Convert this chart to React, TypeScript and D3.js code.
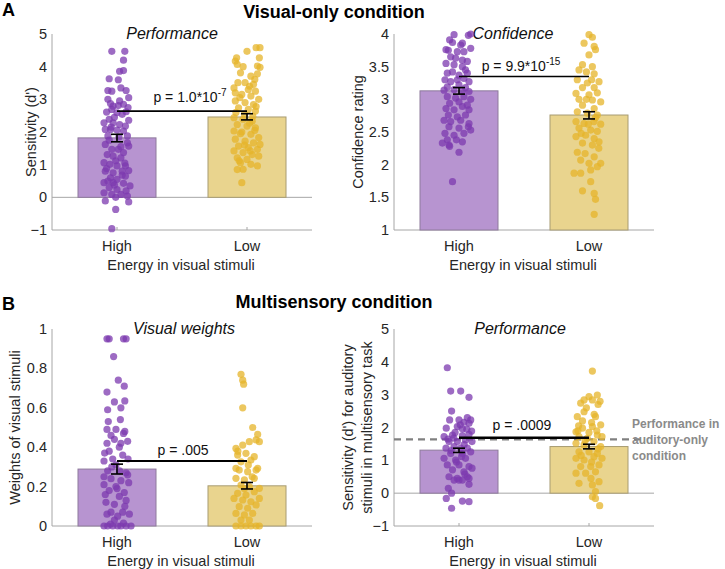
import * as d3 from 'd3';

type Pt = [number, number]; // [jitter in category units, value]

const categories = ['High', 'Low'];
const xAxisLabel = 'Energy in visual stimuli';

// A, left: visual-only performance (d')
const perfVisMeans = [1.82, 2.46];
const perfVisErrLo = [1.70, 2.37];
const perfVisErrHi = [1.93, 2.56];
const perfVisSig = 2.64;
const perfVisHigh: Pt[] = [
  [-0.04, 4.47], [0.06, 4.47], [0.05, 4.2], [0.02, 3.86], [0.05, 3.88], [-0.06, 3.63], [0.01, 3.6], [-0.07, 3.27],
  [-0.04, 3.25], [0.03, 3.35], [0.07, 3.27], [0.09, 3.05], [-0.07, 3.0], [-0.05, 2.87], [-0.03, 2.79], [0.01, 2.81],
  [0.05, 2.85], [-0.08, 2.61], [-0.04, 2.69], [0.0, 2.59], [0.04, 2.54], [0.09, 2.36], [-0.1, 2.28], [-0.06, 2.39],
  [-0.03, 2.28], [0.02, 2.23], [0.065, 2.18], [-0.09, 2.08], [-0.05, 2.08], [0.0, 2.06], [0.05, 2.03], [-0.07, 1.88],
  [0.08, 1.88], [0.08, 1.67], [-0.09, 1.62], [-0.04, 1.47], [0.01, 1.47], [0.05, 1.37], [0.09, 1.57], [-0.075, 1.31],
  [-0.03, 1.26], [0.03, 1.21], [-0.1, 1.06], [-0.055, 1.01], [0.0, 0.96], [0.065, 0.96], [-0.09, 0.8], [-0.03, 0.75],
  [0.04, 0.8], [0.09, 0.82], [-0.05, 0.6], [0.0, 0.55], [0.065, 0.65], [-0.1, 0.45], [-0.03, 0.45], [0.05, 0.43],
  [0.1, 0.35], [-0.06, 0.3], [0.0, 0.24], [-0.1, 0.14], [-0.04, 0.09], [0.03, 0.09], [0.08, 0.04], [-0.09, -0.11],
  [-0.01, 0.0], [0.09, -0.14], [-0.01, -0.37], [-0.04, -0.96], [0.02, 2.95], [-0.02, 2.45], [0.07, 2.62], [-0.06, 1.75],
  [0.03, 1.55], [-0.01, 1.12], [0.06, 1.05], [-0.08, 0.88], [0.04, 0.68], [-0.02, 0.38], [0.085, 2.75], [-0.045, 2.15],
  [0.015, 1.85], [0.07, 0.2], [-0.07, 0.5],
];
const perfVisLow: Pt[] = [
  [0.07, 4.58], [0.1, 4.58], [0.0, 4.47], [-0.08, 4.27], [-0.09, 4.17], [0.095, 4.27], [-0.075, 4.07], [0.08, 4.02],
  [0.1, 3.98], [-0.05, 3.81], [0.03, 3.71], [0.06, 3.61], [-0.07, 3.51], [-0.015, 3.51], [0.05, 3.46], [-0.1, 3.35],
  [0.01, 3.3], [0.065, 3.25], [-0.09, 3.2], [-0.04, 3.15], [0.03, 3.1], [0.09, 3.0], [-0.09, 2.95], [-0.015, 2.9],
  [0.05, 2.84], [-0.065, 2.74], [0.01, 2.69], [0.065, 2.64], [-0.1, 2.44], [-0.03, 2.39], [0.04, 2.33], [-0.075, 2.23],
  [0.0, 2.18], [0.065, 2.13], [-0.1, 2.03], [-0.04, 2.0], [0.03, 1.93], [0.09, 1.83], [-0.09, 1.78], [-0.015, 1.72],
  [0.05, 1.67], [-0.065, 1.57], [0.01, 1.52], [0.08, 1.47], [-0.1, 1.42], [-0.03, 1.37], [0.04, 1.31], [-0.075, 1.21],
  [0.0, 1.16], [0.09, 1.26], [-0.05, 1.06], [0.03, 1.01], [0.08, 0.96], [-0.03, 0.86], [-0.075, 0.85], [-0.04, 0.45],
  [0.02, 3.4], [-0.055, 3.05], [0.07, 2.78], [-0.02, 2.55], [0.045, 2.48], [-0.085, 2.6], [0.02, 2.27], [-0.05, 1.95],
  [0.06, 2.05], [-0.02, 1.6], [0.1, 1.62], [-0.06, 1.12], [0.025, 1.42], [0.08, 3.78], [-0.03, 4.0],
];

// A, right: confidence rating
const confMeans = [3.13, 2.76];
const confErrLo = [3.08, 2.70];
const confErrHi = [3.18, 2.81];
const confSig = 3.35;
const confHigh: Pt[] = [
  [-0.038, 3.99], [0.072, 3.98], [0.09, 4.0], [-0.072, 3.91], [-0.05, 3.87], [0.026, 3.86], [0.013, 3.83], [0.09, 3.78],
  [-0.1, 3.76], [-0.082, 3.75], [-0.013, 3.73], [0.038, 3.73], [-0.064, 3.65], [-0.026, 3.63], [0.026, 3.6], [0.064, 3.58],
  [-0.1, 3.55], [-0.038, 3.53], [0.026, 3.5], [0.05, 3.45], [-0.09, 3.4], [-0.05, 3.42], [0.0, 3.37], [0.064, 3.4],
  [-0.108, 3.3], [-0.064, 3.27], [-0.013, 3.3], [0.038, 3.32], [0.077, 3.27], [-0.09, 3.19], [0.0, 3.22], [0.05, 3.18],
  [-0.115, 3.14], [-0.038, 3.15], [0.026, 3.13], [0.077, 3.12], [-0.09, 3.04], [-0.026, 3.02], [0.038, 3.04], [0.09, 3.0],
  [-0.072, 2.94], [0.0, 2.96], [0.064, 2.91], [-0.1, 2.86], [-0.038, 2.84], [0.026, 2.89], [0.077, 2.84], [-0.082, 2.76],
  [-0.013, 2.73], [0.05, 2.76], [-0.064, 2.66], [0.013, 2.68], [0.077, 2.63], [-0.115, 2.68], [-0.077, 2.58], [0.0, 2.56],
  [0.072, 2.58], [0.09, 2.53], [-0.108, 2.48], [-0.038, 2.45], [0.038, 2.48], [-0.09, 2.38], [-0.02, 2.38], [0.026, 2.35],
  [-0.077, 2.3], [-0.128, 2.33], [-0.072, 2.28], [0.0, 2.19], [-0.05, 1.74],
];
const confLow: Pt[] = [
  [0.0, 3.99], [0.026, 3.95], [-0.038, 3.86], [0.04, 3.81], [0.05, 3.76], [0.0, 3.68], [-0.05, 3.53], [0.026, 3.5],
  [-0.077, 3.45], [-0.02, 3.42], [0.04, 3.39], [0.077, 3.27], [-0.09, 3.3], [-0.013, 3.25], [-0.05, 3.18], [0.04, 3.18],
  [-0.1, 3.09], [0.0, 3.07], [0.064, 3.1], [-0.077, 3.0], [0.026, 2.99], [0.09, 2.96], [-0.05, 2.91], [0.04, 2.86],
  [-0.09, 2.81], [-0.013, 2.79], [0.064, 2.76], [-0.1, 2.66], [-0.038, 2.63], [0.038, 2.66], [0.09, 2.62], [-0.077, 2.56],
  [0.013, 2.53], [0.064, 2.51], [-0.1, 2.43], [-0.026, 2.45], [0.04, 2.4], [-0.05, 2.33], [0.026, 2.3], [0.077, 2.35],
  [-0.09, 2.19], [-0.03, 2.17], [0.04, 2.12], [0.09, 2.02], [-0.064, 2.07], [0.0, 2.02], [0.064, 1.97], [-0.115, 1.87],
  [-0.064, 1.87], [0.013, 1.92], [0.013, 1.74], [-0.05, 1.6], [0.04, 1.56], [0.05, 1.47], [0.04, 1.24], [-0.02, 3.0],
  [0.05, 2.72], [-0.06, 2.48], [0.075, 2.25], [-0.005, 2.62], [0.02, 3.3],
];

// B, left: visual weights
const weightMeans = [0.289, 0.204];
const weightErrLo = [0.264, 0.188];
const weightErrHi = [0.314, 0.221];
const weightSig = 0.33;
const weightHigh: Pt[] = [
  [-0.077, 0.95], [-0.06, 0.95], [0.05, 0.95], [0.07, 0.95], [-0.026, 0.86], [0.01, 0.74], [0.056, 0.71], [-0.077, 0.68],
  [0.06, 0.635], [-0.02, 0.63], [-0.072, 0.59], [0.03, 0.6], [-0.067, 0.53], [0.026, 0.54], [-0.077, 0.49], [-0.008, 0.49],
  [0.06, 0.48], [-0.046, 0.46], [0.05, 0.47], [-0.077, 0.42], [-0.02, 0.44], [0.082, 0.43], [-0.06, 0.38], [0.018, 0.4],
  [-0.095, 0.37], [0.044, 0.36], [-0.033, 0.34], [-0.1, 0.33], [-0.008, 0.31], [-0.072, 0.28], [0.07, 0.27], [0.082, 0.26],
  [-0.046, 0.24], [0.03, 0.23], [-0.1, 0.21], [-0.008, 0.2], [-0.06, 0.18], [0.056, 0.17], [0.018, 0.15], [-0.085, 0.12],
  [-0.02, 0.11], [0.07, 0.13], [-0.046, 0.07], [0.044, 0.07], [-0.077, 0.06], [0.005, 0.05], [0.095, 0.06], [-0.1, 0.0],
  [-0.072, 0.0], [-0.033, 0.0], [0.005, 0.0], [0.03, 0.0], [0.07, 0.0], [0.108, 0.0], [-0.05, 0.01], [0.05, 0.015],
  [0.03, 0.42], [-0.04, 0.3], [0.09, 0.22], [-0.09, 0.16], [0.0, 0.19], [0.06, 0.1], [-0.02, 0.03], [0.085, 0.34],
  [-0.1, 0.25], [0.02, 0.28],
];
const weightLow: Pt[] = [
  [-0.046, 0.77], [-0.033, 0.74], [-0.026, 0.72], [-0.033, 0.6], [0.044, 0.5], [0.082, 0.465], [-0.085, 0.394], [-0.033, 0.411],
  [0.018, 0.428], [0.07, 0.437], [0.095, 0.428], [-0.072, 0.36], [-0.008, 0.369], [0.056, 0.352], [-0.046, 0.326], [0.03, 0.335],
  [-0.085, 0.293], [0.082, 0.293], [-0.06, 0.284], [0.005, 0.276], [0.07, 0.284], [-0.085, 0.242], [-0.02, 0.234], [0.056, 0.242],
  [-0.046, 0.208], [0.018, 0.2], [0.095, 0.191], [-0.072, 0.166], [-0.008, 0.157], [0.056, 0.174], [-0.1, 0.14], [-0.033, 0.132],
  [0.03, 0.123], [0.095, 0.14], [-0.06, 0.098], [0.005, 0.09], [0.07, 0.107], [-0.085, 0.064], [-0.02, 0.056], [0.044, 0.064],
  [-0.046, 0.03], [0.018, 0.03], [-0.085, 0.0], [-0.046, 0.0], [-0.008, 0.0], [0.03, 0.0], [0.07, 0.0], [0.095, 0.0],
  [0.01, 0.31], [-0.07, 0.38], [0.04, 0.25], [-0.02, 0.19],
];

// B, right: auditory performance in multisensory task
const perfMultiMeans = [1.31, 1.42];
const perfMultiErrLo = [1.24, 1.35];
const perfMultiErrHi = [1.37, 1.49];
const perfMultiSig = 1.69;
const perfAuditoryOnly = 1.64;
const perfMultiHigh: Pt[] = [
  [-0.09, 3.82], [-0.064, 3.11], [0.013, 3.11], [0.077, 2.92], [-0.057, 2.5], [-0.072, 2.23], [0.0, 2.23], [0.064, 2.3],
  [0.09, 2.23], [0.038, 2.16], [0.077, 2.13], [-0.098, 1.98], [-0.013, 2.03], [0.026, 1.96], [0.097, 1.89], [-0.115, 1.72],
  [-0.05, 1.77], [0.026, 1.75], [0.077, 1.79], [-0.077, 1.57], [-0.013, 1.57], [0.05, 1.62], [0.1, 1.57], [-0.1, 1.37],
  [-0.038, 1.42], [0.013, 1.37], [0.064, 1.37], [-0.064, 1.21], [0.026, 1.21], [0.09, 1.26], [-0.115, 1.06], [-0.026, 1.01],
  [0.05, 1.06], [-0.09, 0.86], [0.0, 0.86], [0.077, 0.81], [-0.05, 0.71], [0.038, 0.65], [0.1, 0.76], [-0.077, 0.5],
  [-0.013, 0.45], [0.064, 0.5], [-0.038, 0.4], [0.0, 0.4], [0.026, 0.4], [0.077, 0.45], [0.077, 0.27], [-0.082, 0.15],
  [-0.057, 0.0], [-0.098, -0.16], [0.026, -0.24], [0.077, -0.26], [-0.057, -0.46], [-0.03, 1.85], [0.04, 1.48], [-0.06, 1.3],
  [0.02, 1.12], [-0.02, 0.95], [0.06, 1.95], [-0.085, 1.65], [0.01, 2.08], [0.045, 0.58], [-0.04, 1.68],
];
const perfMultiLow: Pt[] = [
  [0.026, 3.72], [0.064, 2.99], [0.0, 2.94], [-0.038, 2.84], [0.026, 2.84], [-0.064, 2.74], [0.05, 2.33], [-0.038, 2.48],
  [-0.09, 2.33], [-0.1, 1.87], [-0.05, 1.98], [0.026, 2.03], [0.09, 2.08], [-0.077, 1.72], [-0.013, 1.67], [0.064, 1.77],
  [0.1, 1.72], [-0.1, 1.52], [-0.038, 1.47], [0.038, 1.57], [0.09, 1.42], [-0.077, 1.26], [0.0, 1.26], [0.064, 1.21],
  [-0.1, 1.06], [-0.038, 1.01], [0.038, 1.11], [0.1, 1.06], [-0.064, 0.81], [0.013, 0.81], [0.077, 0.86], [-0.1, 0.61],
  [-0.026, 0.61], [0.05, 0.65], [-0.077, 0.3], [0.026, 0.25], [0.077, 0.35], [0.05, 0.05], [0.026, -0.11], [0.05, -0.16],
  [0.082, -0.38], [-0.02, 2.6], [0.07, 2.7], [0.085, 2.8], [-0.05, 2.2], [0.02, 2.15], [0.06, 1.9], [-0.08, 2.05],
  [0.0, 1.85], [-0.03, 1.6], [0.07, 1.35], [-0.06, 1.15], [0.02, 0.95], [-0.085, 1.9], [0.04, 2.4], [0.015, 0.45],
];

const FONT = "'Liberation Sans', Arial, sans-serif";
const barFill = ['#b794d0', '#e9d48e'];
const barStroke = ['#8e7a9c', '#a89c72'];
const dotFill = ['#7c3aaf', '#e6b42a'];
const axisGrey = '#a6a6a6';
const textCol = '#262626';

type PanelProps = {
  left: number; right: number; top: number; bottom: number;
  domain: [number, number]; ticks: number[];
  means: number[]; errLo: number[]; errHi: number[];
  high: Pt[]; low: Pt[];
  sig: number; sigWidth: number; pMain: string; pExp?: string; pX: number; pGap: number;
  title: string; titleX: number;
  yLabel: string[]; yLabelX: number[];
  zeroLine?: boolean;
  refLine?: number;
};

function Panel(p: PanelProps) {
  const x = d3.scaleLinear().domain([0.5, 2.5]).range([p.left, p.right]);
  const y = d3.scaleLinear().domain(p.domain).range([p.bottom, p.top]);
  const bw = x(1.3) - x(0.7);
  const base = Math.max(p.domain[0], 0);
  const groups = [p.high, p.low];
  const yMid = (p.top + p.bottom) / 2;
  return (
    <g fontFamily={FONT}>
      {/* axes */}
      <line x1={p.left} x2={p.left} y1={p.top} y2={p.bottom} stroke={axisGrey} />
      <line x1={p.left} x2={p.right} y1={p.bottom} y2={p.bottom} stroke={axisGrey} />
      {p.zeroLine && <line x1={p.left} x2={p.right} y1={y(0)} y2={y(0)} stroke={axisGrey} />}
      {categories.map((c, i) => (
        <g key={c}>
          <line x1={x(i + 1)} x2={x(i + 1)} y1={p.bottom} y2={p.bottom - 3} stroke={axisGrey} />
          <text x={x(i + 1)} y={p.bottom + 21} textAnchor="middle" fontSize={14.5} fill={textCol}>{c}</text>
        </g>
      ))}
      {p.ticks.map((t) => (
        <text key={t} x={p.left - 5} y={y(t) + 5} textAnchor="end" fontSize={14.5} fill={textCol}>{d3.format('~g')(t)}</text>
      ))}
      <text x={(p.left + p.right) / 2 - 1} y={p.bottom + 40} textAnchor="middle" fontSize={14.5} fill={textCol}>{xAxisLabel}</text>
      {p.yLabel.map((l, i) => (
        <text key={l} transform={`translate(${p.yLabelX[i]},${yMid}) rotate(-90)`} textAnchor="middle" fontSize={14.5} fill={textCol}>{l}</text>
      ))}
      <text x={p.titleX} y={p.top + 5} textAnchor="middle" fontSize={16} fontStyle="italic" fill="#111">{p.title}</text>

      {/* bars */}
      {p.means.map((m, i) => (
        <rect key={i} x={x(i + 1) - bw / 2} width={bw} y={y(m)} height={y(base) - y(m)}
          fill={barFill[i]} stroke={barStroke[i]} strokeWidth={1} />
      ))}
      {p.refLine !== undefined && (
        <line x1={p.left} x2={x(2.44)} y1={y(p.refLine)} y2={y(p.refLine)} stroke="#808080" strokeWidth={2.2} strokeDasharray="7,5" />
      )}
      {/* individual participants */}
      {groups.map((pts, i) => (
        <g key={i} fill={dotFill[i]} fillOpacity={0.75}>
          {pts.map(([j, v], k) => (
            <circle key={k} cx={x(i + 1 + j)} cy={y(v)} r={3.6} />
          ))}
        </g>
      ))}
      {/* error bars */}
      {p.means.map((_, i) => (
        <g key={i} stroke="#000" strokeWidth={1.6}>
          <line x1={x(i + 1)} x2={x(i + 1)} y1={y(p.errLo[i])} y2={y(p.errHi[i])} />
          <line x1={x(i + 1) - 6} x2={x(i + 1) + 6} y1={y(p.errLo[i])} y2={y(p.errLo[i])} />
          <line x1={x(i + 1) - 6} x2={x(i + 1) + 6} y1={y(p.errHi[i])} y2={y(p.errHi[i])} />
        </g>
      ))}
      {/* significance */}
      <line x1={x(1)} x2={x(2)} y1={y(p.sig)} y2={y(p.sig)} stroke="#000" strokeWidth={p.sigWidth} />
      <text x={p.pX} y={y(p.sig) - p.pGap} textAnchor="middle" fontSize={14} fill="#111">
        <tspan>{p.pMain}</tspan>
        {p.pExp && <tspan dy={-6} fontSize={10}>{p.pExp}</tspan>}
      </text>
    </g>
  );
}

export default function App() {
  return (
    <svg width={725} height={569} style={{ position: 'absolute', left: 0, top: 0, background: '#fff' }} fontFamily={FONT}>
      <text x={2} y={16} fontSize={18} fontWeight="bold" fill="#000">A</text>
      <text x={334} y={18} fontSize={18} fontWeight="bold" textAnchor="middle" fill="#000">Visual-only condition</text>
      <text x={2} y={310} fontSize={18} fontWeight="bold" fill="#000">B</text>
      <text x={334} y={308} fontSize={18} fontWeight="bold" textAnchor="middle" fill="#000">Multisensory condition</text>

      <Panel left={52} right={312} top={34} bottom={230} domain={[-1, 5]} ticks={[-1, 0, 1, 2, 3, 4, 5]}
        means={perfVisMeans} errLo={perfVisErrLo} errHi={perfVisErrHi} high={perfVisHigh} low={perfVisLow}
        sig={perfVisSig} sigWidth={1.6} pMain="p = 1.0*10" pExp="-7" pX={190} pGap={9}
        title="Performance" titleX={172} yLabel={["Sensitivity (d')"]} yLabelX={[36]} zeroLine />

      <Panel left={394} right={654} top={34} bottom={230} domain={[1, 4]} ticks={[1, 1.5, 2, 2.5, 3, 3.5, 4]}
        means={confMeans} errLo={confErrLo} errHi={confErrHi} high={confHigh} low={confLow}
        sig={confSig} sigWidth={1.6} pMain="p = 9.9*10" pExp="-15" pX={521} pGap={5}
        title="Confidence" titleX={513} yLabel={['Confidence rating']} yLabelX={[363]} />

      <Panel left={52} right={312} top={329} bottom={526} domain={[0, 1]} ticks={[0, 0.2, 0.4, 0.6, 0.8, 1]}
        means={weightMeans} errLo={weightErrLo} errHi={weightErrHi} high={weightHigh} low={weightLow}
        sig={weightSig} sigWidth={1.8} pMain="p = .005" pX={183} pGap={6}
        title="Visual weights" titleX={184} yLabel={['Weights of visual stimuli']} yLabelX={[20]} />

      <Panel left={394} right={654} top={329} bottom={526} domain={[-1, 5]} ticks={[-1, 0, 1, 2, 3, 4, 5]}
        means={perfMultiMeans} errLo={perfMultiErrLo} errHi={perfMultiErrHi} high={perfMultiHigh} low={perfMultiLow}
        sig={perfMultiSig} sigWidth={2.6} pMain="p = .0009" pX={522} pGap={8}
        title="Performance" titleX={520} yLabel={["Sensitivity (d') for auditory", 'stimuli in multisensory task']}
        yLabelX={[353, 372]} zeroLine refLine={perfAuditoryOnly} />

      <g fontFamily={FONT} fontSize={12} fontWeight="bold" fill="#8a8a8a">
        <text x={632} y={428}>Performance in</text>
        <text x={632} y={444}>auditory-only</text>
        <text x={632} y={460}>condition</text>
      </g>
    </svg>
  );
}
